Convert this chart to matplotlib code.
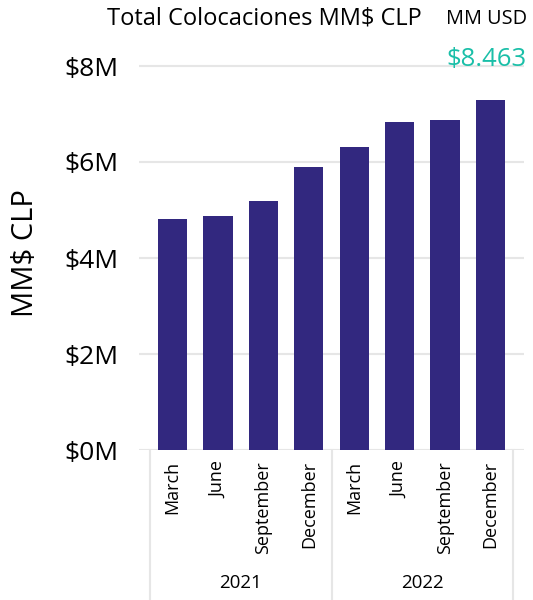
import matplotlib
matplotlib.use("Agg")
import matplotlib.pyplot as plt
import matplotlib.transforms as mtransforms

plt.rcParams['font.family'] = ['Open Sans', 'DejaVu Sans']

months = ["March", "June", "September", "December", "March", "June", "September", "December"]
years = ["2021", "2022"]
values = [4.81, 4.875, 5.19, 5.90, 6.31, 6.83, 6.875, 7.29]  # millions
yticks = [0, 2, 4, 6, 8]
ytick_labels = ["$0M", "$2M", "$4M", "$6M", "$8M"]
title = "Total Colocaciones MM$ CLP"
kpi_label = "MM USD"
kpi_value = "$8.463"

bar_color = "#32287F"
grid_color = "#E6E6E6"

fig = plt.figure(figsize=(5.33, 6.0), dpi=100)
ax = fig.add_axes([139/533, 0.25, (524-139)/533, 0.656])

x = list(range(len(values)))
ax.bar(x, values, width=0.64, color=bar_color, zorder=3)

ax.set_xlim(-0.74, 7.74)
ax.set_ylim(0, 8.2)
ax.set_yticks(yticks)
ax.set_yticklabels(ytick_labels, fontsize=19)
ax.tick_params(axis='y', length=0, pad=15)
ax.yaxis.grid(True, color=grid_color, linewidth=1.5, zorder=0)
for s in ax.spines.values():
    s.set_visible(False)

ax.set_xticks(x)
ax.set_xticklabels(months, rotation=90, fontsize=13, va='top', ha='center')
ax.tick_params(axis='x', length=0, pad=8)

ax.set_ylabel("MM$ CLP", fontsize=21, labelpad=17)

trans = mtransforms.blended_transform_factory(ax.transData, ax.transAxes)
ax_h_px = 0.656 * 600
bottom_frac = -150 / ax_h_px
for xb in [-0.5, 3.5, 7.5]:
    ax.plot([xb, xb], [0, bottom_frac], transform=trans, color=grid_color,
            linewidth=1.5, clip_on=False)

for i, yr in enumerate(years):
    ax.text(1.5 + 4*i, -133/ax_h_px, yr, transform=trans, ha='center', va='center',
            fontsize=13.5)

fig.text(264/533, 1-19/600, title, ha='center', va='center', fontsize=17)
fig.text(527/533, 1-19/600, kpi_label, ha='right', va='center', fontsize=14.3)
fig.text(526/533, 1-60/600, kpi_value, ha='right', va='center', fontsize=18.5, color="#1ABFA8")

fig.savefig("out.png", dpi=100)
